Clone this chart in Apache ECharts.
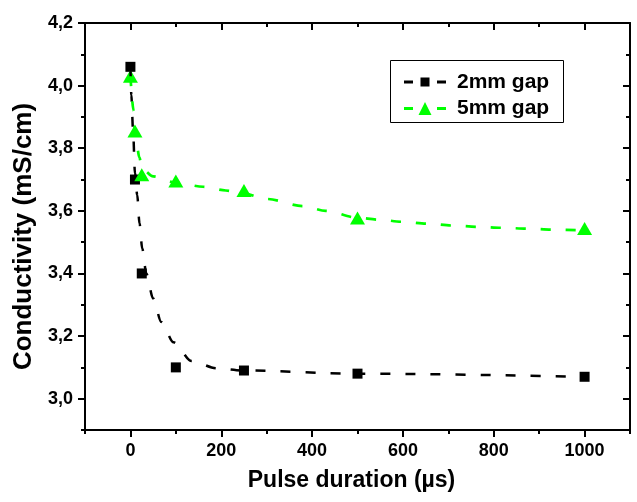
<!DOCTYPE html>
<html><head><meta charset="utf-8">
<script src="https://cdn.jsdelivr.net/npm/echarts@6/dist/echarts.min.js"></script>
<style>html,body{margin:0;padding:0;background:#fff}#c{width:637px;height:502px}</style>
</head><body><div id="c"></div>
<script>
// Measured data
const pulse = [0, 10, 25, 100, 250, 500, 1000];
const gap2mm = [4.06, 3.70, 3.40, 3.10, 3.09, 3.08, 3.07];
const gap5mm = [4.03, 3.855, 3.715, 3.695, 3.665, 3.577, 3.544];
// Fitted (dashed) curves
const fit2mmX = [0, 2, 6, 10, 15, 20, 26, 35, 50, 68, 95, 135, 190, 250, 500, 1000];
const fit2mmY = [4.06, 3.97, 3.85, 3.72, 3.65, 3.56, 3.48, 3.40, 3.32, 3.245, 3.18, 3.12, 3.097, 3.09, 3.08, 3.07];
const fit5mmX = [0, 7, 10, 20, 25, 50, 100, 160, 210, 250, 300, 380, 430, 500, 545, 600, 655, 710, 765, 820, 875, 930, 1000];
const fit5mmY = [4.03, 3.92, 3.85, 3.77, 3.735, 3.71, 3.69, 3.677, 3.665, 3.655, 3.638, 3.615, 3.60, 3.578, 3.572, 3.565, 3.559, 3.553, 3.549, 3.546, 3.543, 3.540, 3.538];
const xTicks = [0, 200, 400, 600, 800, 1000];
const yTicks = [3.0, 3.2, 3.4, 3.6, 3.8, 4.0, 4.2];
const seriesNames = ['2mm gap', '5mm gap'];

const FONT = '"Liberation Sans", Arial, sans-serif';
const zip = (a, b) => a.map((v, i) => [v, b[i]]);
const blk = '#000';
const green = '#00ff00';

const X = {min: -100, max: 1100};
const Y = {min: 2.9, max: 4.2};
const noSplit = {show: false};

// legend icons: dash - symbol - dash
const icon2 = 'path://M0,3h9v3h-9zM16.5,0h9v9h-9zM33,3h9v3h-9z';
const icon5 = 'path://M0,5h9v3h-9zM14.5,13L21,0L27.5,13zM33,5h9v3h-9z';

const legendText = {fontSize: 21, fontWeight: 'bold', color: blk, fontFamily: FONT, lineHeight: 22, padding: [0, 0, 0, 6]};

const chart = echarts.init(document.getElementById('c'), null, {renderer: 'canvas'});
chart.setOption({
  animation: false,
  backgroundColor: '#fff',
  grid: {left: 85, right: 7, top: 23, bottom: 72, containLabel: false},
  xAxis: [
    {type: 'value', position: 'bottom', min: X.min, max: X.max,
     axisLine: {show: true, onZero: false, lineStyle: {color: blk, width: 2}},
     axisTick: {show: true, customValues: xTicks, length: 7, lineStyle: {color: blk, width: 2}},
     axisLabel: {customValues: xTicks, fontSize: 18, fontWeight: 'bold', color: blk, fontFamily: FONT, margin: 12,
                 formatter: v => String(v)},
     splitLine: noSplit,
     name: 'Pulse duration (\u00b5s)', nameLocation: 'middle', nameGap: 39,
     nameTextStyle: {fontSize: 23, fontWeight: 'bold', color: blk, fontFamily: FONT, padding: [0, 12, 0, 0]}},
    {type: 'value', position: 'bottom', min: X.min, max: X.max, interval: 100,
     axisLine: {show: false, onZero: false},
     axisTick: {show: true, length: 4, lineStyle: {color: blk, width: 2}},
     axisLabel: {show: false}, splitLine: noSplit},
    {type: 'value', position: 'top', min: X.min, max: X.max,
     axisLine: {show: true, onZero: false, lineStyle: {color: blk, width: 2}},
     axisTick: {show: true, inside: true, customValues: xTicks, length: 7, lineStyle: {color: blk, width: 2}},
     axisLabel: {show: false}, splitLine: noSplit},
    {type: 'value', position: 'top', min: X.min, max: X.max, interval: 100,
     axisLine: {show: false, onZero: false},
     axisTick: {show: true, inside: true, length: 4, lineStyle: {color: blk, width: 2}},
     axisLabel: {show: false}, splitLine: noSplit}
  ],
  yAxis: [
    {type: 'value', position: 'left', min: Y.min, max: Y.max,
     axisLine: {show: true, onZero: false, lineStyle: {color: blk, width: 2}},
     axisTick: {show: true, customValues: yTicks, length: 7, lineStyle: {color: blk, width: 2}},
     axisLabel: {customValues: yTicks, fontSize: 18, fontWeight: 'bold', color: blk, fontFamily: FONT, margin: 12,
                 formatter: v => v.toFixed(1).replace('.', ',')},
     splitLine: noSplit,
     name: 'Conductivity (mS/cm)', nameLocation: 'middle', nameGap: 47,
     nameTextStyle: {fontSize: 26, fontWeight: 'bold', color: blk, fontFamily: FONT, padding: [0, 20, 0, 0]}},
    {type: 'value', position: 'left', min: Y.min, max: Y.max, interval: 0.1,
     axisLine: {show: false, onZero: false},
     axisTick: {show: true, length: 4, lineStyle: {color: blk, width: 2}},
     axisLabel: {show: false}, splitLine: noSplit},
    {type: 'value', position: 'right', min: Y.min, max: Y.max,
     axisLine: {show: true, onZero: false, lineStyle: {color: blk, width: 2}},
     axisTick: {show: true, inside: true, customValues: yTicks, length: 7, lineStyle: {color: blk, width: 2}},
     axisLabel: {show: false}, splitLine: noSplit},
    {type: 'value', position: 'right', min: Y.min, max: Y.max, interval: 0.1,
     axisLine: {show: false, onZero: false},
     axisTick: {show: true, inside: true, length: 4, lineStyle: {color: blk, width: 2}},
     axisLabel: {show: false}, splitLine: noSplit}
  ],
  legend: [
    {data: [{name: seriesNames[0], icon: icon2}], orient: 'vertical', left: 404, top: 71, padding: 0,
     itemWidth: 42, itemHeight: 9, symbolKeepAspect: false,
     itemStyle: {borderWidth: 0, color: blk},
     textStyle: legendText},
    {data: [{name: seriesNames[1], icon: icon5}], orient: 'vertical', left: 404, top: 97.5, padding: 0,
     itemWidth: 42, itemHeight: 13, symbolKeepAspect: false,
     itemStyle: {borderWidth: 0, color: green},
     textStyle: legendText}
  ],
  graphic: [
    {type: 'rect', shape: {x: 390.5, y: 60.5, width: 173, height: 62},
     style: {fill: null, stroke: blk, lineWidth: 1}, z: 100, silent: true}
  ],
  series: [
    {name: seriesNames[0], type: 'line', xAxisIndex: 0, yAxisIndex: 0,
     data: zip(fit2mmX, fit2mmY), smooth: 0.3, smoothMonotone: 'x',
     symbol: 'rect', showSymbol: false,
     lineStyle: {color: blk, width: 2.5, type: [10, 15]}, itemStyle: {color: blk}, silent: true},
    {name: '2mm points', type: 'scatter', xAxisIndex: 0, yAxisIndex: 0,
     data: zip(pulse, gap2mm), symbol: 'rect', symbolSize: 10, itemStyle: {color: blk, opacity: 1}, silent: true},
    {name: seriesNames[1], type: 'line', xAxisIndex: 0, yAxisIndex: 0,
     data: zip(fit5mmX, fit5mmY), smooth: 0.3, smoothMonotone: 'x',
     symbol: 'triangle', showSymbol: false,
     lineStyle: {color: green, width: 2.7, type: [10, 15]}, itemStyle: {color: green}, silent: true},
    {name: '5mm points', type: 'scatter', xAxisIndex: 0, yAxisIndex: 0,
     data: zip(pulse, gap5mm), symbol: 'triangle', symbolSize: [15, 13], itemStyle: {color: green, opacity: 1}, silent: true}
  ]
});
</script>
</body></html>
